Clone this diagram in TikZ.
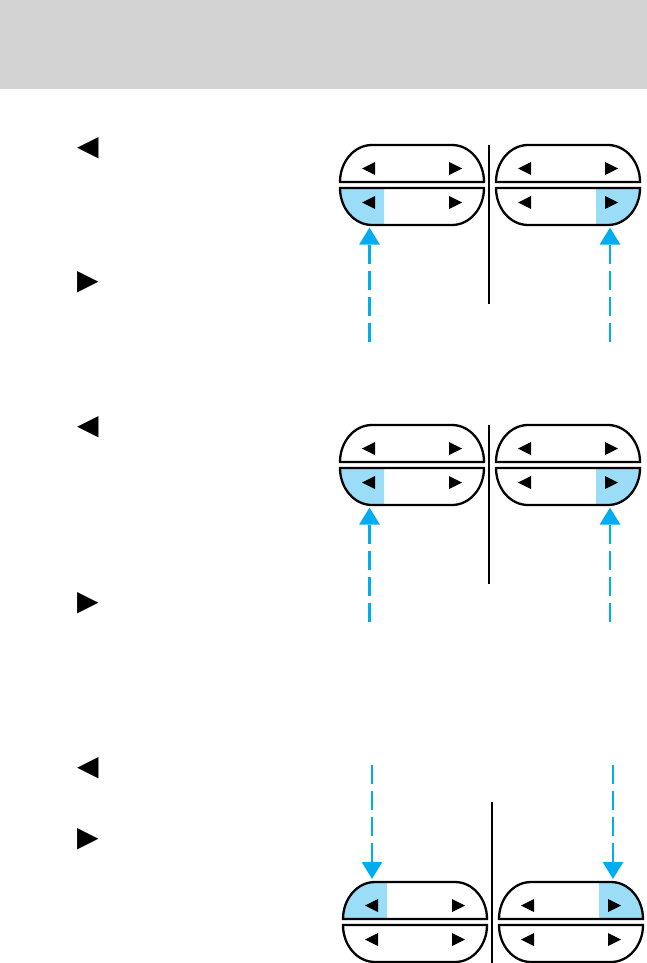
\documentclass[tikz,border=0pt]{standalone}
\usepackage{fontspec}
\newfontfamily\symfont{DejaVu Sans}
\usetikzlibrary{arrows.meta}
\definecolor{hdrgray}{HTML}{D3D3D3}
\definecolor{arrowcyan}{HTML}{00AEEF}
\definecolor{litecyan}{HTML}{9BDDF6}
\tikzset{
  outline/.style={draw=black, line width=2.3pt},
  sep/.style={draw=black, line width=2pt},
  tri/.style={fill=black},
  press/.style={draw=arrowcyan, line width=2.7pt, dash pattern=on 19pt off 7pt,
                -{Triangle[length=17pt,width=20pt]}},
  glyph/.style={inner sep=0pt, font=\symfont\fontsize{28}{28}\selectfont},
}
% upper half of a lens: #1 left x, #2 bottom y
\newcommand{\uphalfpath}[2]{(#1,#2) arc[start angle=180,end angle=270,x radius=32,y radius=37]
  -- ++(80,0) arc[start angle=270,end angle=360,x radius=32,y radius=37] -- cycle}
% lower half of a lens: #1 left x, #2 top y
\newcommand{\lowhalfpath}[2]{(#1,#2) arc[start angle=180,end angle=90,x radius=32,y radius=37]
  -- ++(80,0) arc[start angle=90,end angle=0,x radius=32,y radius=37] -- cycle}
% triangles: #1 left x of lens, #2 centre y
\newcommand{\btntris}[2]{%
  \fill[tri] ({#1+22},#2) -- ({#1+35},{#2-6.5}) -- ({#1+35},{#2+6.5}) -- cycle;
  \fill[tri] ({#1+109},{#2-6.5}) -- ({#1+122},#2) -- ({#1+109},{#2+6.5}) -- cycle;}
% a whole lens: #1 left x, #2 top y, #3 fill spec: 0 none, 1 lower-left, 2 lower-right, 3 upper-left, 4 upper-right
\newcommand{\lens}[3]{%
  \ifcase#3\or
    \begin{scope}\clip (#1,0) rectangle ({#1+44},963); \fill[litecyan] \lowhalfpath{#1}{#2+43}; \end{scope}\or
    \begin{scope}\clip ({#1+100},0) rectangle ({#1+150},963); \fill[litecyan] \lowhalfpath{#1}{#2+43}; \end{scope}\or
    \begin{scope}\clip (#1,0) rectangle ({#1+44},963); \fill[litecyan] \uphalfpath{#1}{#2+37}; \end{scope}\or
    \begin{scope}\clip ({#1+100},0) rectangle ({#1+150},963); \fill[litecyan] \uphalfpath{#1}{#2+37}; \end{scope}\fi
  \draw[outline] \uphalfpath{#1}{#2+37};
  \draw[outline] \lowhalfpath{#1}{#2+43};
  \btntris{#1}{#2+23.5}
  \btntris{#1}{#2+57.5}}
\begin{document}
\begin{tikzpicture}[x=1pt,y=-1pt]
\useasboundingbox (0,0) rectangle (647,963);
\fill[hdrgray] (0,0) rectangle (647,89);

% left column glyphs
\node[glyph] (g1) at (88,148) {◀};
\node[glyph] (g2) at (88,282) {▶};
\node[glyph] (g3) at (88,427) {◀};
\node[glyph] (g4) at (88,603) {▶};
\node[glyph] (g5) at (88,768) {◀};
\node[glyph] (g6) at (88,839.5) {▶};

% section 1
\lens{340}{145}{1}
\lens{496}{145}{2}
\draw[line width=2pt] (488.7,145) -- (488.7,304);
\coordinate (a1t) at (369.5,342); \coordinate (a1h) at (369.5,227.5);
\coordinate (b1t) at (610,342);   \coordinate (b1h) at (610,227.5);
\draw[press] (a1t) -- (a1h);
\draw[press] (b1t) -- (b1h);

% section 2
\lens{340}{425}{1}
\lens{496}{425}{2}
\draw[line width=2pt] (488.7,425) -- (488.7,584);
\coordinate (a2t) at (369.5,622); \coordinate (a2h) at (369.5,507.5);
\coordinate (b2t) at (610,622);   \coordinate (b2h) at (610,507.5);
\draw[press] (a2t) -- (a2h);
\draw[press] (b2t) -- (b2h);

% section 3
\lens{343}{882}{3}
\lens{499}{882}{4}
\draw[line width=2pt] (492,802) -- (492,963);
\coordinate (a3t) at (372,765); \coordinate (a3h) at (372,879);
\coordinate (b3t) at (613,765); \coordinate (b3h) at (613,879);
\draw[press] (a3t) -- (a3h);
\draw[press] (b3t) -- (b3h);
\end{tikzpicture}
\end{document}
